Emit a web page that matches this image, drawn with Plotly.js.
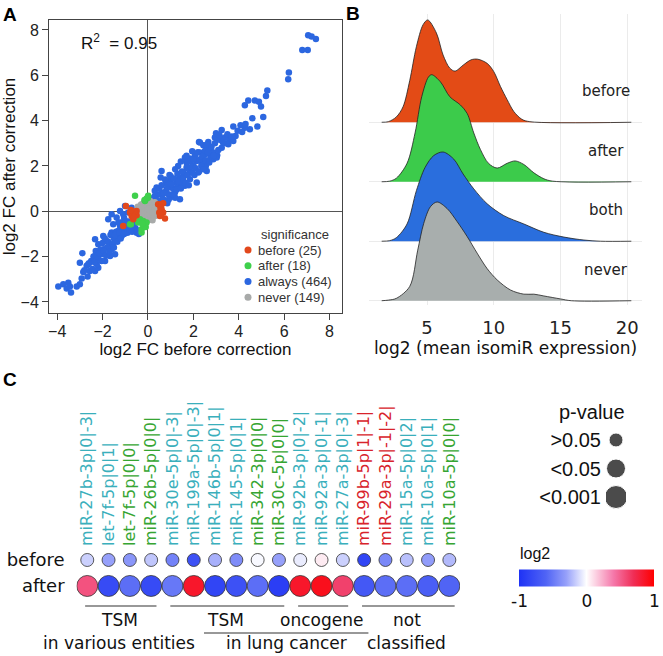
<!DOCTYPE html>
<html>
<head>
<meta charset="utf-8">
<script src="https://cdn.plot.ly/plotly-3.0.1.min.js"></script>
<style>
  body { margin: 0; background: #fff; }
  #fig { width: 663px; height: 656px; }
</style>
</head>
<body>
<div id="fig"></div>
<script>
"use strict";

// ---- panel A: log2 FC before vs after correction ----
const alwaysX = [7.06,7.21,7.4,6.8,7.04,6.21,6.18,5.26,5.2,4.42,4.27,4.71,4.89,4.98,5.08,4.82,4.49,4.27,4.08,3.76,3.25,3.0,2.95,3.17,3.39,3.61,3.76,3.54,3.86,2.25,2.44,2.66,2.59,2.81,3.05,2.88,2.51,2.29,2.07,1.85,1.63,1.7,2.15,2.37,2.0,
  3.07,2.29,2.51,2.88,3.03,2.76,1.85,2.44,2.59,2.22,1.7,1.56,1.33,1.41,1.85,2.15,1.63,1.26,0.97,0.6,0.56,0.82,1.19,1.41,0.97,0.67,0.38,0.31,0.45,0.16,0.09,
  -3.95,-3.73,-3.51,-3.58,-3.39,-3.44,-3.14,-3.0,-2.92,-2.85,-3.0,-2.89,-2.63,-2.56,-2.66,-2.33,-2.19,-2.26,-2.33,-2.19,-2.33,-1.97,-2.04,-1.89,-1.67,-1.45,-1.6,-1.82,-1.97,-1.6,-1.38,-1.16,-1.01,-1.23,-1.53,-1.75,-1.38,-1.09,-0.87,-0.72,-1.01,-1.23,-1.6,-1.31,-0.94,
  -0.9,-0.8,-1.1,-1.3,-1.5,-1.4,-1.7,-1.8,-2.1,-2.4,-2.5,-2.2,-2.7,-2.0,-1.2,0.7,0.9,1.1,1.3,1.5,1.2,0.8,1.0,1.6,1.8,2.05,2.3,2.55,2.75,1.45,1.95,2.6,3.25,3.45,1.2,0.5,-0.85,-0.6,0.65,0.85,-1.3,-1.05,-1.65,-1.9,-2.3,-2.8,
  -2.6,-2.45,-2.35,-2.15,-2.05,-1.95,-1.85,-1.75,-1.7,-1.55,-1.5,-1.45,-1.35,-1.25,-1.2,-1.15,-1.05,-1.0,-0.95,-0.9,-0.8,-0.75,-0.7,-0.55,-0.5,-0.45,-0.4,
  0.25,0.3,0.4,0.5,0.55,0.6,0.7,0.75,0.85,0.9,0.95,1.05,1.1,1.15,1.25,1.3,1.35,1.45,1.5,1.55,1.65,1.7,1.75,1.8,1.9,1.95,2.0,2.1,2.2,2.25,2.35,2.4,2.45,2.55,2.65,2.7,2.8,2.9,2.95,3.1,3.15,3.3,3.5,3.7,3.95,4.15,4.3,4.6];
const alwaysY = [7.77,7.71,7.6,7.12,7.12,6.12,5.83,5.33,5.09,4.89,4.68,4.89,4.83,4.62,4.16,3.74,3.62,3.69,3.8,3.74,3.59,3.44,3.25,3.15,3.25,3.18,3.1,2.96,3.32,3.06,2.91,3.06,2.74,2.62,2.47,2.3,2.52,2.59,2.44,2.33,2.37,2.15,2.22,2.15,2.03,
  3.18,3.03,2.66,2.59,2.37,2.3,2.22,2.08,1.78,1.71,1.93,1.71,2.0,1.49,1.41,1.27,1.12,1.27,1.34,1.78,1.49,0.97,0.83,0.53,0.6,0.83,1.05,0.68,0.38,0.38,0.53,
  -3.32,-3.22,-3.15,-3.41,-3.59,-3.32,-3.32,-3.22,-2.97,-2.68,-2.27,-1.85,-2.34,-2.64,-2.88,-2.64,-2.49,-2.34,-1.97,-1.46,-1.24,-1.68,-1.9,-2.19,-1.97,-1.9,-1.68,-1.31,-1.09,-0.94,-1.24,-1.09,-0.94,-0.65,-0.57,-0.35,-0.28,-0.13,-0.06,0.16,0.23,0.01,-0.13,-0.87,-0.57,
  -0.75,-0.5,-0.8,-1.1,-1.2,-0.9,-1.5,-1.6,-1.7,-2.0,-2.2,-2.1,-2.4,-1.4,-0.5,0.5,0.75,1.0,1.1,1.2,0.6,1.25,1.55,1.6,1.85,1.6,2.3,2.0,2.45,2.2,2.65,2.95,2.8,3.0,1.85,0.75,-0.45,-0.55,0.55,0.35,-0.5,-0.3,-1.05,-1.2,-1.75,-2.6,
  -2.3,-2.55,-2.25,-1.85,-2.2,-1.75,-1.95,-1.35,-1.8,-1.45,-1.6,-1.05,-1.35,-0.95,-1.2,-0.65,-1.0,-0.7,-0.45,-0.95,-0.8,-0.65,-0.9,-0.75,-0.95,-0.85,-1.0,
  0.6,0.9,0.5,1.0,0.25,1.15,0.8,1.4,1.05,0.5,1.6,1.2,0.75,1.45,0.95,1.65,1.3,1.0,1.75,1.45,1.25,2.45,1.6,1.15,1.95,1.7,2.3,1.9,2.6,1.75,2.0,2.4,1.85,2.25,2.6,2.15,2.85,2.45,3.0,2.7,3.35,3.05,3.4,3.3,3.55,3.5,3.85,4.1];

const neverX = [-0.4,-0.3,-0.2,-0.1,0,0.1,0.2,0.3,0.4,-0.35,-0.25,-0.15,-0.05,0.05,0.15,0.25,0.35,0.45,-0.3,-0.2,-0.1,0,0.1,0.2,0.3,-0.25,-0.15,-0.05,0.05,0.15,0.25,-0.1,0,0.1,0.5,-0.45,0.2,-0.2,0.05,0.35,0.0,-0.3,0.2,0.3,-0.4,0.45];
const neverY = [-0.1,0.05,0.2,0.35,0.4,0.3,0.15,0.05,-0.05,-0.25,-0.15,-0.05,0.1,0.15,0.05,-0.1,-0.2,0.1,0.3,0.35,-0.3,-0.2,-0.35,-0.3,0.25,0.15,0.45,-0.4,0.0,-0.15,0.3,0.0,0.25,0.45,-0.1,0.2,-0.4,-0.45,-0.1,0.3,0.1,-0.05,-0.05,0.4,-0.3,0.2];

const afterX = [-0.57,-0.06,0.01,-0.13,-0.79,-0.35,-0.21,-0.28,-0.18,-0.06,-0.43,-0.28,-0.2,-0.1,0.0,-0.15,-0.75,-0.25];
const afterY = [0.68,0.56,0.68,0.45,-0.57,-0.35,-0.43,-0.79,-0.65,-0.5,-0.5,-0.94,-0.6,-0.7,0.6,0.5,-0.57,-0.55];

const beforeX = [-0.97,-0.79,-0.72,-0.57,-0.5,-0.65,-1.09,0.45,0.6,0.67,0.53,0.75,0.5,0.67,-0.72,-0.5,-0.65,-0.69,0.53,0.6,-0.6,-0.75,0.55,-0.62,0.58];
const beforeY = [0.23,-0.06,-0.21,-0.13,0.01,-0.35,-0.65,0.31,0.09,-0.06,-0.21,-0.32,-0.06,0.35,0.01,-0.18,-0.06,-0.21,-0.09,0.31,-0.02,0.05,0.15,-0.25,-0.15];

const sigNames = ["before", "after", "always", "never"];
const sigCounts = [25, 18, 464, 149];
const r2Value = 0.95;

// ---- panel B: density ridges of log2 mean isomiR expression ----
const ridgeNames = ["before", "after", "both", "never"];
const densBeforeX = [1.6,2.1,2.7,3.2,3.7,4.2,4.7,5.05,5.7,6.2,6.7,7.1,7.7,8.3,8.8,9.5,10.0,10.5,11.0,11.5,12.1,12.7,20.3];
const densBeforeY = [0,0.01,0.09,0.26,0.7,1.27,1.64,1.72,1.5,1.13,0.91,0.86,0.96,1.05,1.06,0.99,0.85,0.6,0.38,0.18,0.05,0.01,0];
const densAfterX = [1.6,2.2,2.7,3.5,4.1,4.6,5.1,5.35,6.0,6.7,7.5,8.0,8.5,9.0,9.6,10.25,11.0,11.6,12.25,13.0,13.75,14.4,20.3];
const densAfterY = [0,0.01,0.06,0.31,0.82,1.43,1.76,1.8,1.68,1.43,1.29,1.15,0.82,0.54,0.31,0.23,0.31,0.35,0.29,0.15,0.05,0.01,0];
const densBothX = [1.6,2.2,2.7,3.5,4.2,4.85,5.5,6.2,7.0,7.7,8.5,9.5,10.75,12.25,13.75,15.25,16.75,18.0,20.3];
const densBothY = [0,0.01,0.06,0.29,0.85,1.24,1.44,1.5,1.38,1.13,0.88,0.63,0.43,0.29,0.15,0.07,0.02,0.0,0];
const densNeverX = [1.6,2.1,2.7,3.7,4.3,4.75,5.25,5.75,6.5,7.25,8.0,8.75,9.5,10.25,11.25,12.25,13.0,13.75,15.0,15.8,20.3];
const densNeverY = [0,0.01,0.04,0.24,0.85,1.3,1.58,1.66,1.55,1.33,1.08,0.8,0.54,0.35,0.18,0.11,0.11,0.08,0.03,0.0,0];

// ---- panel C: isomiR fold change dot plot ----
const mirNames = ["miR-27b-3p|0|-3|", "let-7f-5p|0|1|", "let-7f-5p|0|0|", "miR-26b-5p|0|0|",
  "miR-30e-5p|0|-3|", "miR-199a-5p|0|-3|", "miR-146b-5p|0|1|", "miR-145-5p|0|1|",
  "miR-342-3p|0|0|", "miR-30c-5p|0|0|", "miR-92b-3p|0|-2|", "miR-92a-3p|0|-1|",
  "miR-27a-3p|0|-3|", "miR-99b-5p|1|-1|", "miR-29a-3p|-1|-2|", "miR-15a-5p|0|2|",
  "miR-10a-5p|0|1|", "miR-10a-5p|0|0|"];
const mirKind = ["iso", "iso", "canon", "canon", "iso", "iso", "iso", "iso", "canon", "canon",
  "iso", "iso", "iso", "shift", "shift", "iso", "iso", "canon"];
const log2Before = [-0.15,-0.3,-0.35,-0.18,-0.45,-0.75,-0.25,-0.4,-0.02,-0.3,-0.06,0.06,-0.15,-0.85,-0.42,-0.2,-0.32,-0.22];
const log2After = [0.55,-0.8,-0.55,-0.8,-0.5,0.85,-0.85,-0.75,-0.55,-0.9,0.85,0.9,0.62,-0.7,-0.55,-0.55,-0.65,-0.6];
const rowNames = ["after", "before"];
const pLabels = ["<0.001", "<0.05", ">0.05"];
const groupTop = ["TSM", "TSM", "oncogene", "not"];
const groupFirst = [0, 4, 10, 13];
const groupLast = [3, 9, 12, 17];
const groupBottom = ["in various entities", "in lung cancer", "classified"];
const groupBottomAt = [1.5, 9.36, 15];

// ---- styling ----
const W = 663, H = 656;
const fx = p => p / W;
const fy = p => 1 - p / H;
const SANS = "Liberation Sans, Arial, sans-serif";
const DEJA = "DejaVu Sans, sans-serif";
const sigColors = { before: "#E2481C", after: "#3FD04C", always: "#2C67E0", never: "#A8AAA9" };
const ridgeColors = ["#E34B16", "#3CCB4B", "#2A6EDD", "#A8AEAD"];
const kindColors = { iso: "#3AAFBC", canon: "#36A532", shift: "#D8232B" };
const log2Scale = [[0, "rgb(30,50,245)"], [0.2, "rgb(80,100,245)"], [0.35, "rgb(150,160,250)"],
  [0.5, "rgb(255,255,255)"], [0.7, "rgb(245,120,170)"], [0.85, "rgb(240,45,85)"], [1, "rgb(255,0,0)"]];
const pDotSize = [23, 19, 14];

let traces = [];

// scatter groups, drawn blue first so the small groups sit on top
[["always", alwaysX, alwaysY], ["never", neverX, neverY], ["after", afterX, afterY], ["before", beforeX, beforeY]]
  .forEach(([name, xs, ys]) => {
    traces.push({
      type: "scatter", mode: "markers", x: xs, y: ys, xaxis: "x", yaxis: "y",
      marker: { color: sigColors[name], size: 6.5 }, showlegend: false, hoverinfo: "x+y"
    });
  });

// significance key
const sigLabels = sigNames.map((n, i) => `${n} (${sigCounts[i]})`);
traces.push({
  type: "scatter", mode: "markers", x: sigNames.map(() => 0), y: sigLabels,
  xaxis: "x5", yaxis: "y5", showlegend: false, hoverinfo: "skip",
  marker: { color: sigNames.map(n => sigColors[n]), size: 7 }
});

// ridges, top row first so lower rows overlap it
const ridgeX = [densBeforeX, densAfterX, densBothX, densNeverX];
const ridgeY = [densBeforeY, densAfterY, densBothY, densNeverY];
ridgeNames.forEach((name, i) => {
  const base = ridgeNames.length - 1 - i;
  traces.push({
    type: "scatter", mode: "lines", x: ridgeX[i], y: ridgeY[i].map(h => h + base),
    xaxis: "x2", yaxis: "y2", fill: "toself", fillcolor: ridgeColors[i],
    line: { color: "#222", width: 0.8, shape: "spline", smoothing: 0.9 },
    showlegend: false, hoverinfo: "skip", name: name
  });
});

// dot plot rows
traces.push({
  type: "scatter", mode: "markers", x: mirNames, y: mirNames.map(() => "before"),
  xaxis: "x3", yaxis: "y3", showlegend: false,
  marker: { color: log2Before, cmin: -1, cmax: 1, colorscale: log2Scale, size: 13,
    line: { color: "#333", width: 0.8 } }
});
traces.push({
  type: "scatter", mode: "markers", x: mirNames, y: mirNames.map(() => "after"),
  xaxis: "x3", yaxis: "y3", showlegend: false,
  marker: { color: log2After, cmin: -1, cmax: 1, colorscale: log2Scale, size: 21,
    line: { color: "#333", width: 0.8 },
    showscale: true,
    colorbar: {
      orientation: "h", x: fx(587), xanchor: "center", y: fy(588), yanchor: "middle",
      len: 155, lenmode: "pixels", thickness: 17, outlinewidth: 0,
      tickvals: [-1, 0, 1], ticktext: ["-1", "0", "1"], ticks: "",
      tickfont: { family: DEJA, size: 17, color: "#111" }
    } }
});

// p-value key
traces.push({
  type: "scatter", mode: "markers", x: pLabels.map(() => 0), y: pLabels,
  xaxis: "x6", yaxis: "y6", showlegend: false, hoverinfo: "skip",
  marker: { color: "#000", size: pDotSize }
});

// annotations
let annotations = [
  { text: "<b>A</b>", x: fx(1), y: fy(2), xref: "paper", yref: "paper", xanchor: "left", yanchor: "top",
    showarrow: false, font: { family: SANS, size: 19, color: "#000" } },
  { text: "<b>B</b>", x: fx(344), y: fy(1), xref: "paper", yref: "paper", xanchor: "left", yanchor: "top",
    showarrow: false, font: { family: SANS, size: 19, color: "#000" } },
  { text: "<b>C</b>", x: fx(1), y: fy(367), xref: "paper", yref: "paper", xanchor: "left", yanchor: "top",
    showarrow: false, font: { family: SANS, size: 19, color: "#000" } },
  { text: `R<sup>2</sup>  = ${r2Value.toFixed(2)}`, x: fx(79), y: fy(42), xref: "paper", yref: "paper",
    xanchor: "left", yanchor: "middle", showarrow: false, font: { family: SANS, size: 17, color: "#111" } },
  { text: "significance", x: fx(259), y: fy(234), xref: "paper", yref: "paper",
    xanchor: "left", yanchor: "middle", showarrow: false, font: { family: SANS, size: 13, color: "#333" } },
  { text: "p-value", x: fx(592), y: fy(412), xref: "paper", yref: "paper",
    xanchor: "center", yanchor: "middle", showarrow: false, font: { family: SANS, size: 20, color: "#111" } },
  { text: "log2", x: fx(518), y: fy(553), xref: "paper", yref: "paper",
    xanchor: "left", yanchor: "middle", showarrow: false, font: { family: SANS, size: 16, color: "#111" } }
];
ridgeNames.forEach((name, i) => {
  annotations.push({
    text: name, x: 18.4, y: ridgeNames.length - 1 - i + 0.52, xref: "x2", yref: "y2",
    xanchor: "center", yanchor: "middle", showarrow: false, font: { family: DEJA, size: 15, color: "#222" }
  });
});
groupTop.forEach((t, i) => {
  annotations.push({
    text: t, x: (groupFirst[i] + groupLast[i]) / 2, y: fy(620), xref: "x3", yref: "paper",
    xanchor: "center", yanchor: "middle", showarrow: false, font: { family: DEJA, size: 17, color: "#111" }
  });
});
groupBottom.forEach((t, i) => {
  annotations.push({
    text: t, x: groupBottomAt[i], y: fy(643), xref: "x3", yref: "paper",
    xanchor: "center", yanchor: "middle", showarrow: false, font: { family: DEJA, size: 17, color: "#111" }
  });
});

// bracket lines under the dot plot
let shapes = groupFirst.map((g, i) => ({
  type: "line", xref: "x3", yref: "paper", x0: g - 0.1, x1: groupLast[i] + 0.25,
  y0: fy(606), y1: fy(606), line: { color: "#333", width: 1.2 }
}));
shapes.push({ type: "line", xref: "x3", yref: "paper", x0: 5.48, x1: 13.2,
  y0: fy(633), y1: fy(633), line: { color: "#333", width: 1.2 } });

const layout = {
  width: W, height: H,
  margin: { l: 0, r: 0, t: 0, b: 0, autoexpand: false },
  paper_bgcolor: "#fff", plot_bgcolor: "#fff",
  showlegend: false,
  font: { family: SANS, color: "#111" },
  xaxis: {
    domain: [fx(49), fx(342)], anchor: "y", range: [-4.36, 8.55],
    tickvals: [-4, -2, 0, 2, 4, 6, 8], ticks: "outside", ticklen: 6, tickcolor: "#444",
    showline: true, mirror: true, linecolor: "#444", linewidth: 1, ticklabelstandoff: -2,
    showgrid: false, zeroline: true, zerolinecolor: "#555", zerolinewidth: 1,
    tickfont: { family: SANS, size: 16, color: "#222" },
    title: { text: "log2 FC before correction", font: { family: SANS, size: 17, color: "#111" }, standoff: 0 }
  },
  yaxis: {
    domain: [fy(313), fy(20)], anchor: "x", range: [-4.49, 8.44],
    tickvals: [-4, -2, 0, 2, 4, 6, 8], ticks: "outside", ticklen: 6, tickcolor: "#444",
    showline: true, mirror: true, linecolor: "#444", linewidth: 1,
    showgrid: false, zeroline: true, zerolinecolor: "#555", zerolinewidth: 1,
    tickfont: { family: SANS, size: 16, color: "#222" },
    title: { text: "log2 FC after correction", font: { family: SANS, size: 17, color: "#111" }, standoff: 1 }
  },
  xaxis2: {
    domain: [fx(369), fx(642)], anchor: "y2", range: [0.65, 21.1],
    tickvals: [5, 10, 15, 20], ticks: "", showline: false, zeroline: false,
    showgrid: true, gridcolor: "#EBEBEB", gridwidth: 1, ticklabelstandoff: 10,
    tickfont: { family: DEJA, size: 18, color: "#222" },
    title: { text: "log2 (mean isomiR expression)", font: { family: DEJA, size: 17, color: "#111" }, standoff: 2 }
  },
  yaxis2: {
    domain: [fy(305), fy(14)], anchor: "x2", range: [-0.072, 4.82],
    tickvals: [0, 1, 2, 3], showticklabels: false, ticks: "", zeroline: false,
    showgrid: true, gridcolor: "#EBEBEB", gridwidth: 1
  },
  xaxis3: {
    domain: [fx(76.6), fx(460)], anchor: "y3", side: "top", type: "category",
    categoryarray: mirNames, range: [-0.5, 17.5],
    tickmode: "array", tickvals: mirNames,
    ticktext: mirNames.map((m, i) => `<span style="color:${kindColors[mirKind[i]]}">${m}</span>`),
    tickangle: -90, ticks: "", showgrid: false, zeroline: false, showline: false,
    tickfont: { family: DEJA, size: 16 }
  },
  yaxis3: {
    domain: [fy(600), fy(547)], anchor: "x3", type: "category", categoryarray: rowNames,
    tickmode: "array", tickvals: rowNames,
    range: [-0.54, 1.5], ticks: "", showgrid: false, zeroline: false, showline: false,
    ticklabelstandoff: 11,
    tickfont: { family: DEJA, size: 18, color: "#111" }
  },
  xaxis5: { domain: [fx(241), fx(255)], anchor: "y5", range: [-1, 1], visible: false },
  yaxis5: {
    domain: [fy(305), fy(242)], anchor: "x5", side: "right", type: "category",
    categoryarray: sigLabels.slice().reverse(), range: [-0.49, 3.51],
    tickmode: "array", tickvals: sigLabels,
    ticks: "", showgrid: false, zeroline: false, showline: false, ticklabelstandoff: 2,
    tickfont: { family: SANS, size: 13, color: "#333" }
  },
  xaxis6: { domain: [fx(606), fx(626)], anchor: "y6", range: [-1, 1], visible: false },
  yaxis6: {
    domain: [fy(511), fy(426)], anchor: "x6", type: "category", categoryarray: pLabels,
    tickmode: "array", tickvals: pLabels,
    range: [-0.49, 2.49], ticks: "", showgrid: false, zeroline: false, showline: false,
    ticklabelstandoff: 4,
    tickfont: { family: SANS, size: 20, color: "#111" }
  },
  annotations: annotations,
  shapes: shapes
};

Plotly.newPlot("fig", traces, layout, { displayModeBar: false, staticPlot: true });
</script>
</body>
</html>
